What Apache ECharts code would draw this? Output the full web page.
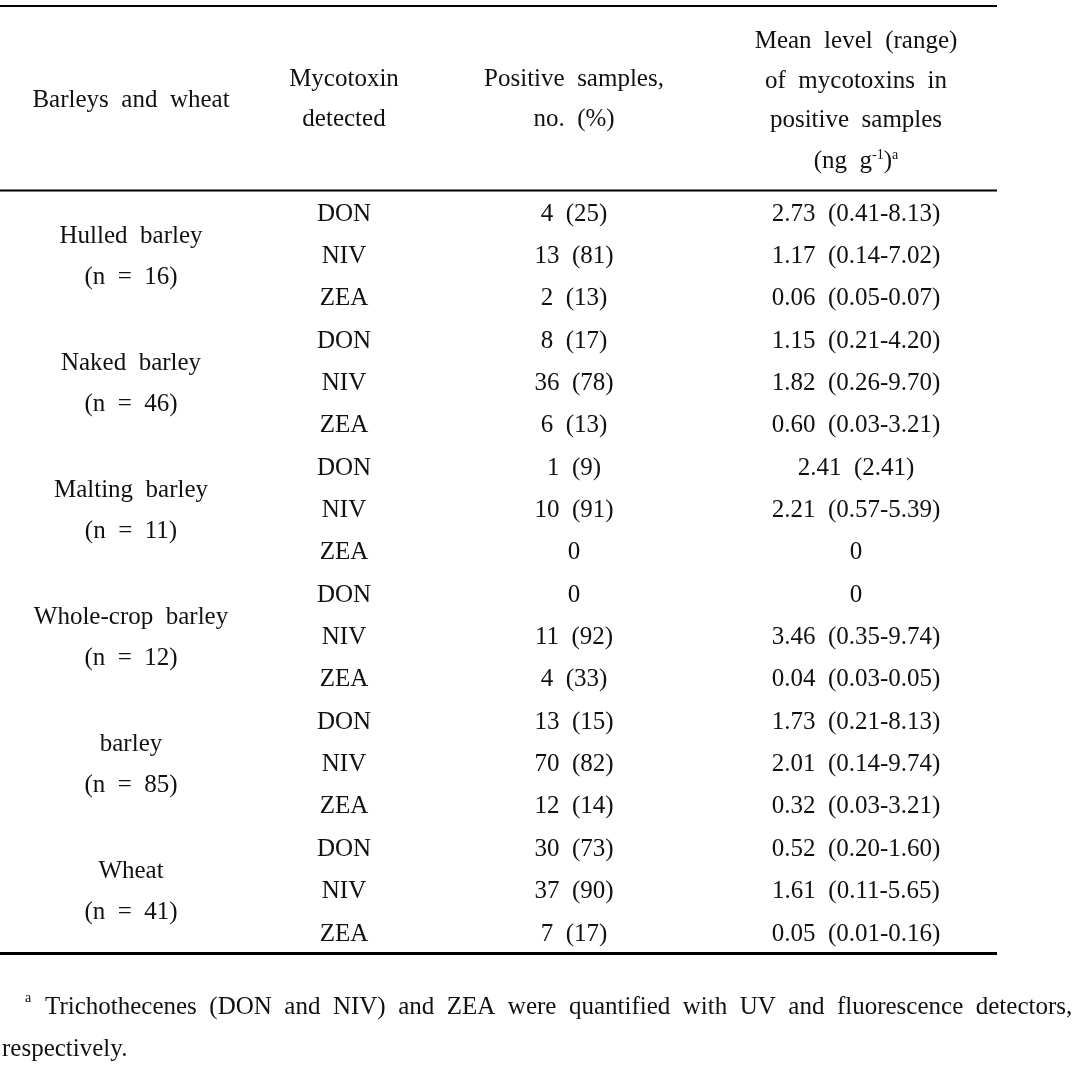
<!DOCTYPE html>
<html>
<head>
<meta charset="utf-8">
<script src="https://cdn.jsdelivr.net/npm/echarts@6/dist/echarts.min.js"></script>
<style>
  html, body { margin: 0; padding: 0; background: #fff; }
  #main { width: 1088px; height: 1066px; }
</style>
</head>
<body>
<div id="main"></div>
<script>
// table data
const groups = ['Hulled  barley', 'Naked  barley', 'Malting  barley', 'Whole-crop  barley', 'barley', 'Wheat']
const groupN = [16, 46, 11, 12, 85, 41]
const toxins = ['DON', 'NIV', 'ZEA']
const positiveNo = [4, 13, 2, 8, 36, 6, 1, 10, 0, 0, 11, 4, 13, 70, 12, 30, 37, 7]
const positivePct = [25, 81, 13, 17, 78, 13, 9, 91, null, null, 92, 33, 15, 82, 14, 73, 90, 17]
const meanLevel = ['2.73', '1.17', '0.06', '1.15', '1.82', '0.60', '2.41', '2.21', null, null, '3.46', '0.04', '1.73', '2.01', '0.32', '0.52', '1.61', '0.05']
const rangeLow = ['0.41', '0.14', '0.05', '0.21', '0.26', '0.03', '2.41', '0.57', null, null, '0.35', '0.03', '0.21', '0.14', '0.03', '0.20', '0.11', '0.01']
const rangeHigh = ['8.13', '7.02', '0.07', '4.20', '9.70', '3.21', null, '5.39', null, null, '9.74', '0.05', '8.13', '9.74', '3.21', '1.60', '5.65', '0.16']
const headers = [
  ['Barleys  and  wheat'],
  ['Mycotoxin', 'detected'],
  ['Positive  samples,', 'no.  (%)'],
  ['Mean  level  (range)', 'of  mycotoxins  in', 'positive  samples', '(ng  g{sup|-1}){sup|a}']
]
const footnote = ['Trichothecenes  (DON  and  NIV)  and  ZEA  were  quantified  with  UV  and  fluorescence  detectors,', 'respectively.']

// layout
const COL_X = [131, 344, 574, 856]
const HEAD_Y = [[100], [79, 119], [79, 119], [41, 81, 120, 161]]
const ROW_Y0 = 214
const ROW_H = 42.35
const FONT = '"Liberation Serif", "Times New Roman", serif'

const cells = []
headers.forEach((lines, c) => {
  lines.forEach((t, k) => {
    cells.push({ value: [COL_X[c], HEAD_Y[c][k]], text: t })
  })
})
groups.forEach((g, i) => {
  const y = ROW_Y0 + i * 3 * ROW_H
  cells.push({ value: [COL_X[0], y + 22], text: g })
  cells.push({ value: [COL_X[0], y + 63], text: '(n  =  ' + groupN[i] + ')' })
})
positiveNo.forEach((n, i) => {
  const y = ROW_Y0 + i * ROW_H
  cells.push({ value: [COL_X[1], y], text: toxins[i % 3] })
  cells.push({ value: [COL_X[2], y], text: positivePct[i] == null ? String(n) : n + '  (' + positivePct[i] + ')' })
  let t = '0'
  if (meanLevel[i] != null) {
    t = meanLevel[i] + '  (' + rangeLow[i] + (rangeHigh[i] ? '-' + rangeHigh[i] : '') + ')'
  }
  cells.push({ value: [COL_X[3], y], text: t })
})

const chart = echarts.init(document.getElementById('main'))
chart.setOption({
  animation: false,
  grid: { left: 0, right: 0, top: 0, bottom: 0 },
  xAxis: { type: 'value', min: 0, max: 1088, show: false },
  yAxis: { type: 'value', min: 0, max: 1066, inverse: true, show: false },
  series: [{
    type: 'custom',
    data: cells.map(c => c.value),
    renderItem: function (params, api) {
      const p = api.coord([api.value(0), api.value(1)])
      return {
        type: 'text',
        x: p[0],
        y: p[1],
        style: {
          text: cells[params.dataIndex].text,
          x: 0,
          y: 0,
          align: 'center',
          verticalAlign: 'middle',
          fill: '#111',
          font: '25px ' + FONT,
          rich: {
            sup: { fontSize: 14, fontFamily: FONT, verticalAlign: 'top', padding: [0, 0, 10, 0] }
          }
        }
      }
    }
  }],
  graphic: [
    { type: 'line', shape: { x1: 0, y1: 6, x2: 997, y2: 6 }, style: { stroke: '#000', lineWidth: 2 } },
    { type: 'line', shape: { x1: 0, y1: 190.5, x2: 997, y2: 190.5 }, style: { stroke: '#000', lineWidth: 2 } },
    { type: 'line', shape: { x1: 0, y1: 953.5, x2: 997, y2: 953.5 }, style: { stroke: '#000', lineWidth: 3 } },
    { type: 'text', x: 25, y: 998, style: { text: 'a', font: '14px ' + FONT, fill: '#111', verticalAlign: 'middle' } },
    { type: 'text', x: 45, y: 1007, style: { text: footnote[0], font: '25px ' + FONT, fill: '#111', verticalAlign: 'middle' } },
    { type: 'text', x: 2, y: 1049, style: { text: footnote[1], font: '25px ' + FONT, fill: '#111', verticalAlign: 'middle' } }
  ]
})
</script>
</body>
</html>
